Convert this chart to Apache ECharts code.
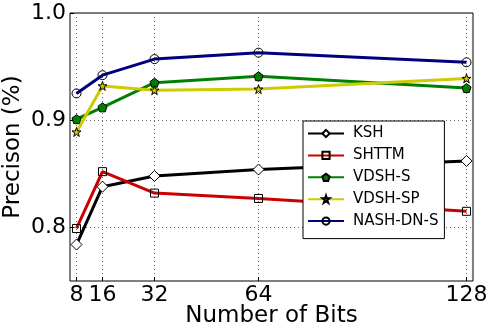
<!DOCTYPE html>
<html>
<head>
<meta charset="utf-8">
<script src="https://cdn.jsdelivr.net/npm/echarts@6/dist/echarts.min.js"></script>
<style>html,body{margin:0;padding:0;background:#fff}#c{width:492px;height:336px}</style>
</head>
<body>
<div id="c"></div>
<script>
const bits = [8, 16, 32, 64, 128];
const ksh = [0.784, 0.838, 0.848, 0.854, 0.862];
const shttm = [0.799, 0.852, 0.832, 0.827, 0.815];
const vdshS = [0.901, 0.912, 0.935, 0.941, 0.930];
const vdshSP = [0.889, 0.932, 0.928, 0.929, 0.939];
const nash = [0.925, 0.942, 0.957, 0.963, 0.954];
const yTicks = [0.8, 0.9, 1.0];

const PENT = 'path://M0,-3.6 L3.42,-1.11 L2.12,2.91 L-2.12,2.91 L-3.42,-1.11 Z';
const STAR = 'path://M0,-3.6 L0.81,-1.11 L3.42,-1.11 L1.31,0.42 L2.12,2.91 L0,1.38 L-2.12,2.91 L-1.31,0.42 L-3.42,-1.11 L-0.81,-1.11 Z';

function mk(name, vals, color, symbol, size, fill) {
  return {
    name: name, type: 'line',
    data: bits.map((b, i) => [b, vals[i]]),
    symbol: symbol, symbolSize: size, showAllSymbol: true,
    lineStyle: {color: color, width: 3},
    itemStyle: {color: fill, borderColor: '#000', borderWidth: 1},
    color: color,
    emphasis: {disabled: true}
  };
}

const chart = echarts.init(document.getElementById('c'), null, {renderer: 'canvas'});
chart.setOption({
  animation: false,
  backgroundColor: '#fff',
  textStyle: {fontFamily: 'DejaVu Sans'},
  grid: {left: 70, top: 13, right: 19, bottom: 55, outerBoundsMode: 'none', containLabel: false,
    show: true, borderColor: '#000', borderWidth: 1, backgroundColor: 'transparent'},
  xAxis: {
    type: 'value', min: 6, max: 130,
    name: 'Number of Bits', nameLocation: 'middle', nameGap: 24, nameMoveOverlap: false,
    nameTextStyle: {fontSize: 23, color: '#000', fontFamily: 'DejaVu Sans'},
    axisLine: {show: false},
    axisTick: {show: true, inside: true, length: 4, customValues: bits, lineStyle: {color: '#000'}},
    axisLabel: {customValues: bits, fontSize: 22, color: '#000', margin: 3, fontFamily: 'DejaVu Sans'},
    splitLine: {show: true, lineStyle: {type: [1, 3], color: '#666', width: 1}}
  },
  yAxis: {
    type: 'value', min: 0.75, max: 1.0,
    name: 'Precison (%)', nameLocation: 'middle', nameGap: 45, nameRotate: 90, nameMoveOverlap: false,
    nameTextStyle: {fontSize: 23, color: '#000', fontFamily: 'DejaVu Sans'},
    axisLine: {show: false},
    axisTick: {show: true, inside: true, length: 4, customValues: yTicks, lineStyle: {color: '#000'}},
    axisLabel: {customValues: yTicks, fontSize: 22, color: '#000', margin: 4, fontFamily: 'DejaVu Sans',
      formatter: v => v.toFixed(1)},
    splitLine: {show: true, lineStyle: {type: [1, 3], color: '#666', width: 1}}
  },
  legend: {
    orient: 'vertical', left: 303, top: 121,
    backgroundColor: '#fff', borderColor: '#000', borderWidth: 1,
    padding: [5, 6, 10, 4],
    itemWidth: 36, itemHeight: 9, itemGap: 6.9,
    textStyle: {fontSize: 15, color: '#000', fontFamily: 'DejaVu Sans', padding: [0, 0, 0, 4]},
    data: ['KSH', 'SHTTM', 'VDSH-S', 'VDSH-SP', 'NASH-DN-S']
  },
  series: [
    mk('KSH', ksh, '#000000', 'diamond', 11, '#fff'),
    mk('SHTTM', shttm, '#cc0000', 'rect', 8, 'rgba(0,0,0,0)'),
    mk('VDSH-S', vdshS, '#008000', PENT, 9, '#008000'),
    mk('VDSH-SP', vdshSP, '#cccc00', STAR, 9, '#cccc00'),
    mk('NASH-DN-S', nash, '#000080', 'circle', 9, 'rgba(0,0,0,0)')
  ]
});
</script>
</body>
</html>
